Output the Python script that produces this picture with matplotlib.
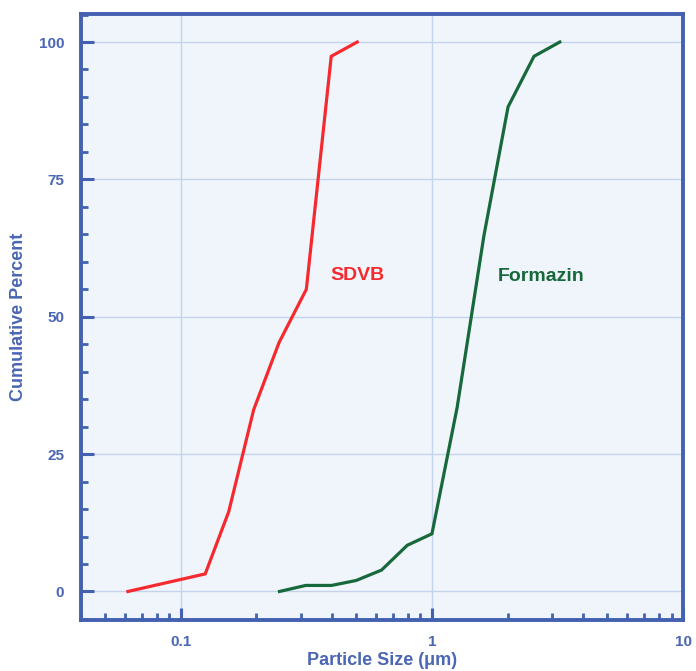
import matplotlib
matplotlib.use("Agg")
import matplotlib.pyplot as plt
from matplotlib.ticker import LogLocator, FixedLocator, MultipleLocator, FuncFormatter

plt.rcParams['font.family'] = ['Liberation Sans', 'DejaVu Sans']

sdvb_size = [0.0615, 0.125, 0.155, 0.195, 0.246, 0.316, 0.397, 0.504]
sdvb_cum = [0, 3.2, 14.5, 33.1, 45.3, 55.0, 97.4, 100]

formazin_size = [0.247, 0.314, 0.398, 0.499, 0.63, 0.797, 1.0, 1.26, 1.61, 2.01, 2.55, 3.23]
formazin_cum = [0, 1.1, 1.1, 2.0, 3.9, 8.4, 10.5, 33.5, 64.7, 88.2, 97.4, 100]

y_ticks = [0, 25, 50, 75, 100]
x_ticks = [0.1, 1, 10]
x_tick_labels = ['0.1', '1', '10']

axis_color = '#4361b0'
text_color = '#4a66b4'
red = '#f42a2e'
green = '#17683a'

fig = plt.figure(figsize=(6.96, 6.71), dpi=100)
ax = fig.add_axes([81/696, 1 - 619.5/671, (683-81)/696, (619.5-14)/671])
ax.set_facecolor('#eff5fb')

ax.plot(sdvb_size, sdvb_cum, color=red, lw=2.3, solid_joinstyle='miter')
ax.plot(formazin_size, formazin_cum, color=green, lw=2.3, solid_joinstyle='miter')

ax.set_xscale('log')
ax.set_xlim(0.04, 10)
ax.set_ylim(-5.1, 105.1)

ax.xaxis.set_major_locator(FixedLocator(x_ticks))
ax.xaxis.set_major_formatter(FuncFormatter(lambda v, p: x_tick_labels[x_ticks.index(v)] if v in x_ticks else ''))
ax.xaxis.set_minor_locator(LogLocator(base=10, subs=range(2, 10), numticks=20))
ax.xaxis.set_minor_formatter(FuncFormatter(lambda v, p: ''))
ax.yaxis.set_major_locator(FixedLocator(y_ticks))
ax.yaxis.set_minor_locator(MultipleLocator(5))

ax.grid(True, which='major', color='#c5d2ec', lw=1.0)
ax.set_axisbelow(True)

for s in ax.spines.values():
    s.set_color(axis_color)
    s.set_linewidth(2.8)

ax.tick_params(axis='both', which='major', direction='in', length=9, width=2.2,
               color=axis_color, labelcolor=text_color, labelsize=11, pad=8)
ax.tick_params(axis='both', which='minor', direction='in', length=5, width=2.0,
               color=axis_color)
ax.tick_params(axis='x', which='major', pad=11)
ax.tick_params(axis='y', which='major', pad=12)
for lbl in ax.get_xticklabels() + ax.get_yticklabels():
    lbl.set_fontweight('bold')

ax.set_xlabel('Particle Size (μm)', color=text_color, fontsize=13, fontweight='bold', labelpad=2)
ax.set_ylabel('Cumulative Percent', color=text_color, fontsize=13, fontweight='bold')
ax.yaxis.set_label_coords(-0.09, 0.5)

ax.text(0.503, 57.5, 'SDVB', color=red, fontsize=14, fontweight='bold', ha='center', va='center')
ax.text(1.83, 57.3, 'Formazin', color=green, fontsize=14, fontweight='bold', ha='left', va='center')

fig.savefig('out.png', dpi=100)
